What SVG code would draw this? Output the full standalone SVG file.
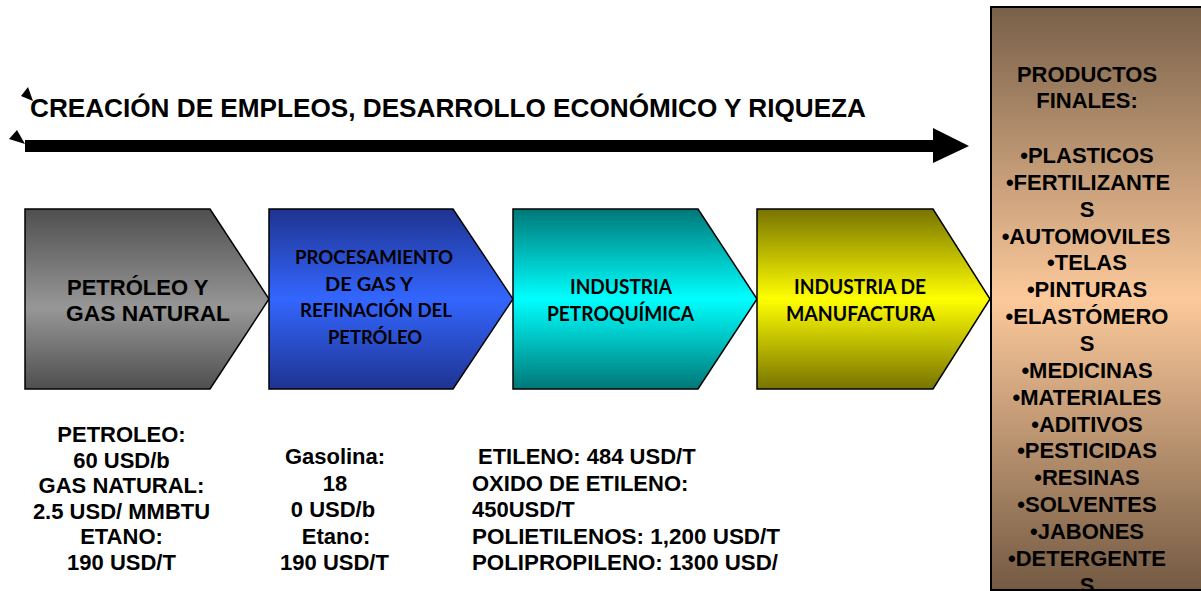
<svg xmlns="http://www.w3.org/2000/svg" width="1201" height="591" viewBox="0 0 1201 591">
<defs>
<style>
.a{font-family:"Liberation Sans",Arial,sans-serif;font-weight:bold;fill:#000}
.c{font-family:Lato,"Open Sans",sans-serif;font-weight:bold;fill:#000}
.sh{stroke:#000;stroke-width:1.5}
</style>
<linearGradient id="gGray" x1="0" y1="0" x2="0" y2="1">
<stop offset="0" stop-color="#4f4f4f"/><stop offset="0.55" stop-color="#979797"/><stop offset="1" stop-color="#4f4f4f"/>
</linearGradient>
<linearGradient id="gBlue" x1="0" y1="0" x2="0" y2="1">
<stop offset="0" stop-color="#1f3390"/><stop offset="0.5" stop-color="#3366ff"/><stop offset="1" stop-color="#1f3390"/>
</linearGradient>
<linearGradient id="gCyan" x1="0" y1="0" x2="0" y2="1">
<stop offset="0" stop-color="#007777"/><stop offset="0.5" stop-color="#00ffff"/><stop offset="1" stop-color="#007777"/>
</linearGradient>
<linearGradient id="gYel" x1="0" y1="0" x2="0" y2="1">
<stop offset="0" stop-color="#787300"/><stop offset="0.5" stop-color="#ffff00"/><stop offset="1" stop-color="#787300"/>
</linearGradient>
<linearGradient id="gBrown" x1="0" y1="0" x2="0" y2="1">
<stop offset="0" stop-color="#786049"/><stop offset="0.5" stop-color="#fcc99b"/><stop offset="1" stop-color="#735a43"/>
</linearGradient>
<clipPath id="boxClip"><rect x="992" y="8" width="209" height="581"/></clipPath>
</defs>
<rect width="1201" height="591" fill="#fff"/>

<g id="connectors">
<rect x="25" y="140" width="910" height="12" fill="#000"/>
<polygon points="933,128 969,146 933,163" fill="#000"/>
<polygon points="17,130 9,139 25,144" fill="#000"/>
<polygon points="28,87 21,96 33,101" fill="#000"/>
</g>

<g id="title">
<text class="a" x="30" y="117" font-size="26" textLength="836" lengthAdjust="spacingAndGlyphs">CREACIÓN DE EMPLEOS, DESARROLLO ECONÓMICO Y RIQUEZA</text>
</g>

<g id="node-petroleo">
<polygon class="sh" points="25,209 210,209 269,299 210,389 25,389" fill="url(#gGray)"/>
<text class="a" font-size="22" x="67" y="295">PETRÓLEO Y</text>
<text class="a" font-size="22" x="66" y="321" textLength="164" lengthAdjust="spacingAndGlyphs">GAS NATURAL</text>
</g>

<g id="node-procesamiento">
<polygon class="sh" points="269,209 453,209 513,299 453,389 269,389" fill="url(#gBlue)"/>
<text class="c" font-size="18" x="295" y="264" textLength="158" lengthAdjust="spacingAndGlyphs">PROCESAMIENTO</text>
<text class="c" font-size="18" x="325" y="291" textLength="88" lengthAdjust="spacingAndGlyphs">DE GAS Y</text>
<text class="c" font-size="18" x="300" y="317" textLength="152" lengthAdjust="spacingAndGlyphs">REFINACIÓN DEL</text>
<text class="c" font-size="18" x="328" y="344" textLength="94" lengthAdjust="spacingAndGlyphs">PETRÓLEO</text>
</g>

<g id="node-petroquimica">
<polygon class="sh" points="513,209 698,209 757,299 698,389 513,389" fill="url(#gCyan)"/>
<text class="c" font-size="20" x="570" y="294" textLength="102" lengthAdjust="spacingAndGlyphs">INDUSTRIA</text>
<text class="c" font-size="20" x="547" y="321" textLength="147" lengthAdjust="spacingAndGlyphs">PETROQUÍMICA</text>
</g>

<g id="node-manufactura">
<polygon class="sh" points="757,209 933,209 990,299 933,389 757,389" fill="url(#gYel)"/>
<text class="c" font-size="20" x="794" y="294" textLength="132" lengthAdjust="spacingAndGlyphs">INDUSTRIA DE</text>
<text class="c" font-size="20" x="786" y="321" textLength="149" lengthAdjust="spacingAndGlyphs">MANUFACTURA</text>
</g>

<g id="node-productos">
<rect x="991" y="7" width="215" height="583" fill="url(#gBrown)" stroke="#000" stroke-width="2"/>
<g clip-path="url(#boxClip)" class="a" font-size="22" text-anchor="middle">
<text x="1087" y="82">PRODUCTOS</text>
<text x="1087" y="108">FINALES:</text>
<text x="1087" y="163">•PLASTICOS</text>
<text x="1088" y="189.9">•FERTILIZANTE</text>
<text x="1087" y="216.7">S</text>
<text x="1086" y="243.6">•AUTOMOVILES</text>
<text x="1087" y="270.4">•TELAS</text>
<text x="1087" y="297.3">•PINTURAS</text>
<text x="1087" y="324.1">•ELASTÓMERO</text>
<text x="1087" y="351">S</text>
<text x="1087" y="377.8">•MEDICINAS</text>
<text x="1087" y="404.7">•MATERIALES</text>
<text x="1087" y="431.5">•ADITIVOS</text>
<text x="1087" y="458.4">•PESTICIDAS</text>
<text x="1087" y="485.2">•RESINAS</text>
<text x="1087" y="512.1">•SOLVENTES</text>
<text x="1087" y="538.9">•JABONES</text>
<text x="1087" y="565.8">•DETERGENTE</text>
<text x="1087" y="592.6">S</text>
</g>
</g>

<g id="prices-1" class="a" font-size="22" text-anchor="middle">
<text x="121.5" y="442">PETROLEO:</text>
<text x="121.5" y="467.6">60 USD/b</text>
<text x="121.5" y="493.2">GAS NATURAL:</text>
<text x="121.5" y="518.8">2.5 USD/ MMBTU</text>
<text x="121.5" y="544.4">ETANO:</text>
<text x="121.5" y="570">190 USD/T</text>
</g>

<g id="prices-2" class="a" font-size="22" text-anchor="middle">
<text x="335" y="464">Gasolina:</text>
<text x="335" y="490.5">18</text>
<text x="333" y="517">0 USD/b</text>
<text x="336" y="543.5">Etano:</text>
<text x="334.5" y="570">190 USD/T</text>
</g>

<g id="prices-3" class="a" font-size="22">
<text x="478" y="464">ETILENO: 484 USD/T</text>
<text x="472" y="490.5">OXIDO DE ETILENO:</text>
<text x="472" y="517">450USD/T</text>
<text x="472" y="543.5" textLength="308" lengthAdjust="spacingAndGlyphs">POLIETILENOS: 1,200 USD/T</text>
<text x="472" y="570" textLength="306" lengthAdjust="spacingAndGlyphs">POLIPROPILENO: 1300 USD/</text>
</g>
</svg>
